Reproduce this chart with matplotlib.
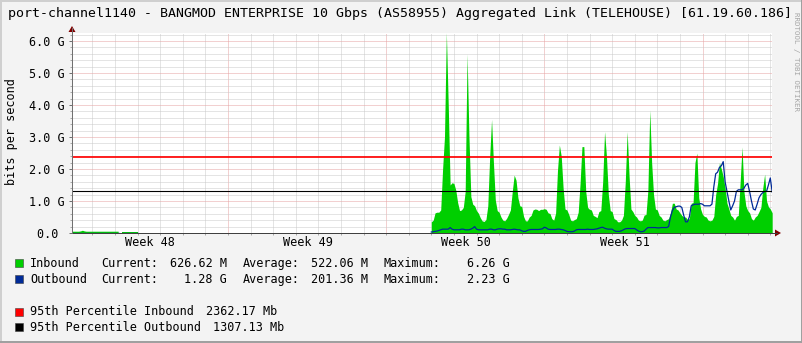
import numpy as np
import matplotlib
matplotlib.use("Agg")
import matplotlib.pyplot as plt
from matplotlib.patches import Rectangle, Polygon
from matplotlib.lines import Line2D

# ---------------- data ----------------
title = "port-channel1140 - BANGMOD ENTERPRISE 10 Gbps (AS58955) Aggregated Link (TELEHOUSE) [61.19.60.186]"
y_label = "bits per second"
y_ticks = [0, 1, 2, 3, 4, 5, 6]
y_tick_labels = ["0.0 ", "1.0 G", "2.0 G", "3.0 G", "4.0 G", "5.0 G", "6.0 G"]
week_positions = [2.55, 9.55, 16.55, 23.55]
week_labels = ["Week 48", "Week 49", "Week 50", "Week 51"]

step_days = 1.0 / 12.0          # 2-hour samples

early_start = -1.0
early_in = [0.04, 0.04, 0.04, 0.04, 0.04, 0.04, 0.05, 0.07, 0.05, 0.04,
            0.04, 0.04, 0.04, 0.04, 0.04, 0.04, 0.04, 0.04, 0.04, 0.04,
            0.04, 0.04, 0.04, 0.04, 0.04, 0.04, 0.04, np.nan, 0.04, 0.04,
            0.04, 0.04, 0.04, 0.04, 0.04, 0.04, 0.04]
early_out = [0.01, 0.01, 0.01, 0.01, 0.01, 0.01, 0.01, 0.01, 0.01, 0.01,
             0.01, 0.01, 0.01, 0.01, 0.01, 0.01, 0.01, 0.01, 0.01, 0.01,
             0.01, 0.01, 0.01, 0.01, 0.01, 0.01, 0.01, np.nan, 0.01, 0.01,
             0.01, 0.01, 0.01, 0.01, 0.01, 0.01, 0.01]

main_start = 15.0
inbound = [
    0.35, 0.40, 0.63, 0.65, 0.65, 0.72, 2.00, 3.00, 6.26, 4.00,
    1.50, 1.57, 1.55, 1.34, 0.95, 0.70, 0.72, 0.80, 1.30, 5.60,
    3.00, 1.14, 0.90, 0.85, 0.70, 0.62, 0.48, 0.38, 0.36, 0.42,
    0.85, 2.38, 3.55, 2.20, 1.03, 0.70, 0.65, 0.50, 0.40, 0.38,
    0.46, 0.58, 0.72, 1.30, 1.81, 1.65, 1.10, 0.85, 0.83, 0.52,
    0.38, 0.38, 0.50, 0.55, 0.72, 0.75, 0.74, 0.70, 0.74, 0.74,
    0.76, 0.74, 0.63, 0.61, 0.45, 0.40, 0.62, 1.95, 2.75, 2.40,
    1.40, 0.75, 0.72, 0.58, 0.40, 0.38, 0.42, 0.45, 0.65, 1.55,
    2.70, 2.70, 1.30, 0.80, 0.74, 0.72, 0.55, 0.52, 0.48, 0.67,
    0.70, 1.60, 3.17, 2.40, 1.20, 0.70, 0.67, 0.45, 0.42, 0.35,
    0.35, 0.40, 0.55, 1.60, 3.17, 1.80, 0.75, 0.67, 0.55, 0.50,
    0.40, 0.38, 0.40, 0.56, 0.58, 1.34, 3.84, 2.20, 1.20, 0.75,
    0.72, 0.55, 0.50, 0.40, 0.38, 0.42, 0.45, 0.63, 0.93, 0.93,
    0.75, 0.72, 0.63, 0.55, 0.50, 0.50, 0.42, 0.45, 0.93, 0.95,
    2.20, 2.50, 1.10, 0.75, 0.58, 0.52, 0.50, 0.40, 0.38, 0.40,
    0.52, 1.20, 1.55, 2.20, 2.00, 1.76, 1.40, 0.93, 0.75, 0.55,
    0.50, 0.40, 0.52, 0.55, 1.60, 2.69, 1.30, 0.85, 0.70, 0.63,
    0.45, 0.40, 0.50, 0.55, 0.67, 0.80, 1.40, 1.84, 1.00, 0.82,
    0.75, 0.63]
outbound = [
    0.03, 0.04, 0.05, 0.06, 0.08, 0.10, 0.12, 0.12, 0.12, 0.12,
    0.17, 0.12, 0.10, 0.10, 0.10, 0.10, 0.12, 0.12, 0.10, 0.10,
    0.10, 0.12, 0.15, 0.20, 0.12, 0.10, 0.10, 0.10, 0.10, 0.10,
    0.10, 0.12, 0.12, 0.10, 0.10, 0.12, 0.13, 0.13, 0.12, 0.12,
    0.10, 0.10, 0.10, 0.11, 0.12, 0.11, 0.10, 0.10, 0.07, 0.05,
    0.05, 0.08, 0.10, 0.11, 0.11, 0.11, 0.11, 0.11, 0.12, 0.13,
    0.18, 0.16, 0.12, 0.11, 0.11, 0.11, 0.11, 0.12, 0.12, 0.11,
    0.10, 0.08, 0.05, 0.04, 0.04, 0.04, 0.06, 0.10, 0.11, 0.11,
    0.11, 0.11, 0.11, 0.12, 0.11, 0.11, 0.11, 0.12, 0.13, 0.15,
    0.17, 0.18, 0.15, 0.13, 0.12, 0.12, 0.12, 0.08, 0.05, 0.05,
    0.05, 0.07, 0.10, 0.13, 0.14, 0.14, 0.14, 0.14, 0.14, 0.10,
    0.06, 0.04, 0.04, 0.06, 0.12, 0.17, 0.17, 0.17, 0.17, 0.17,
    0.16, 0.16, 0.17, 0.17, 0.17, 0.17, 0.20, 0.50, 0.70, 0.80,
    0.82, 0.84, 0.84, 0.80, 0.56, 0.35, 0.35, 0.50, 0.85, 0.88,
    0.90, 0.90, 0.90, 0.92, 0.90, 0.85, 0.85, 0.85, 0.85, 0.90,
    1.44, 1.85, 1.90, 2.05, 2.10, 2.23, 1.60, 1.30, 1.00, 0.72,
    0.85, 1.00, 1.30, 1.35, 1.35, 1.35, 1.40, 1.50, 1.55, 1.30,
    1.00, 0.75, 0.72, 0.90, 1.10, 1.20, 1.26, 1.30, 1.30, 1.50,
    1.72, 1.28]

pct_in = 2.36217    # 95th percentile inbound (Gbps)
pct_out = 1.30713   # 95th percentile outbound (Gbps)

legend_rows = [
    ("Inbound", "626.62 M", "522.06 M", "6.26 G"),
    ("Outbound", "1.28 G", "201.36 M", "2.23 G"),
]
pct_labels = [("95th Percentile Inbound", "2362.17 Mb"),
              ("95th Percentile Outbound", "1307.13 Mb")]

# ---------------- style ----------------
W, H, DPI = 803, 343, 100
C_BG = "#F3F3F3"
C_IN = "#00CF00"
C_OUT = "#002A97"
C_PIN = "#FF0000"
C_POUT = "#000000"
C_GRID = "#CACACA"
C_MGRID = "#E6A3A3"
C_ARROW = "#7F0000"
C_AXIS = "#707070"
MONO = "DejaVu Sans Mono"
PX = 72.0 / DPI   # one pixel in points

def fx(px):
    return px / W

def fy(py):
    return 1 - py / H

fig = plt.figure(figsize=(W / DPI, H / DPI), dpi=DPI, facecolor=C_BG)

# plot area in pixels
L, R, T, B = 72, 772, 33, 233
ax = fig.add_axes([fx(L), fy(B), (R - L) / W, (B - T) / H], facecolor="white")
day0_px, px_per_day = 92.3, 22.6
ax.set_xlim((L - day0_px) / px_per_day, (R - day0_px) / px_per_day)
ax.set_ylim(0, 6.25)
for s in ax.spines.values():
    s.set_visible(False)

# dotted grid (1 px on / 1 px off)
x0, x1 = ax.get_xlim()
for d in range(int(np.ceil(x0)), int(np.floor(x1)) + 1):
    major = (d % 7 == 6)
    ax.axvline(d, color=C_MGRID if major else C_GRID, lw=PX,
               ls=(0, (1, 1)), zorder=0.5, snap=True)
for v in np.arange(0.2, 6.25, 0.2):
    major = abs(v - round(v)) < 1e-6
    ax.axhline(v, color=C_MGRID if major else C_GRID, lw=PX,
               ls=(0, (1, 1)), zorder=0.5, snap=True)

# data
t_early = early_start + np.arange(len(early_in)) * step_days
t_main = main_start + np.arange(len(inbound)) * step_days
ax.fill_between(t_early, 0, np.array(early_in, float), color=C_IN, lw=0, zorder=1)
ax.fill_between(t_main, 0, np.array(inbound, float), color=C_IN, lw=0, zorder=1)
ax.plot(t_early, early_out, color=C_OUT, lw=0.9, zorder=2)
ax.plot(t_main, outbound, color=C_OUT, lw=0.9, zorder=2)
ax.axhline(pct_in, color=C_PIN, lw=PX * 1.7, zorder=3)
ax.axhline(pct_out, color=C_POUT, lw=PX * 1.1, zorder=3)

# ticks
ax.set_yticks(y_ticks)
ax.set_yticklabels(y_tick_labels, fontfamily=MONO, fontsize=8.5)
ax.set_yticks(np.arange(0, 6.25, 0.2), minor=True)
ax.set_xticks(week_positions)
ax.set_xticklabels(week_labels, fontfamily=MONO, fontsize=8.5)
ax.set_xticks(np.arange(int(np.ceil(x0)), int(np.floor(x1)) + 1), minor=True)
ax.tick_params(axis="y", which="major", length=2.5, width=PX, color=C_AXIS, pad=2.5)
ax.tick_params(axis="y", which="minor", length=1.5, width=PX, color="#A8A8A8")
ax.tick_params(axis="x", which="major", length=0, pad=2.5)
ax.tick_params(axis="x", which="minor", length=1.5, width=PX, color="#A8A8A8")

# axis lines and arrows
fig.add_artist(Line2D([fx(L), fx(777)], [fy(B), fy(B)], color="#404040", lw=PX, snap=True))
fig.add_artist(Line2D([fx(L), fx(L)], [fy(B), fy(28)], color=C_AXIS, lw=PX, snap=True))
fig.add_artist(Polygon([[fx(68.5), fy(32)], [fx(75.5), fy(32)], [fx(72), fy(26)]],
                       closed=True, color=C_ARROW, lw=0))
fig.add_artist(Polygon([[fx(775), fy(229.5)], [fx(775), fy(236.5)], [fx(781), fy(233)]],
                       closed=True, color=C_ARROW, lw=0))

# texts
fig.text(fx(8), fy(14), title, fontfamily=MONO, fontsize=9.5, ha="left", va="center")
fig.text(fx(12), fy(132), y_label, fontfamily=MONO, fontsize=8.5, rotation=90,
         ha="center", va="center")
fig.text(fx(796), fy(62), "RRDTOOL / TOBI OETIKER", fontfamily=MONO, fontsize=5.4,
         rotation=270, ha="center", va="center", color="#A6A6A6")

# legend
row_y = [263.3, 279.3]
for (name, cur, avg, mx), y, col in zip(legend_rows, row_y, [C_IN, C_OUT]):
    fig.add_artist(Rectangle((fx(15), fy(y + 4)), 8 / W, 8 / H, facecolor=col,
                             edgecolor="#404040", lw=0.4))
    kw = dict(fontfamily=MONO, fontsize=8.5, va="center")
    fig.text(fx(30), fy(y), name, ha="left", **kw)
    fig.text(fx(101.7), fy(y), "Current:", ha="left", **kw)
    fig.text(fx(227), fy(y), cur, ha="right", **kw)
    fig.text(fx(242.7), fy(y), "Average:", ha="left", **kw)
    fig.text(fx(368), fy(y), avg, ha="right", **kw)
    fig.text(fx(383.7), fy(y), "Maximum:", ha="left", **kw)
    fig.text(fx(509.5), fy(y), mx, ha="right", **kw)

pct_y = [311.7, 327.3]
pct_x = [206, 212.7]
for (name, val), y, xv, col in zip(pct_labels, pct_y, pct_x, [C_PIN, C_POUT]):
    fig.add_artist(Rectangle((fx(15), fy(y + 4)), 8 / W, 8 / H, facecolor=col,
                             edgecolor="#404040", lw=0.4))
    kw = dict(fontfamily=MONO, fontsize=8.5, va="center")
    fig.text(fx(30), fy(y), name, ha="left", **kw)
    fig.text(fx(xv), fy(y), val, ha="left", **kw)

# outer shading frame
fig.add_artist(Line2D([fx(0.5), fx(0.5)], [fy(0), fy(H)], color="#CFCFCF", lw=1.4))
fig.add_artist(Line2D([fx(0), fx(W)], [fy(0.5), fy(0.5)], color="#CFCFCF", lw=1.4))
fig.add_artist(Line2D([fx(W - 1), fx(W - 1)], [fy(0), fy(H)], color="#9E9E9E", lw=1.4))
fig.add_artist(Line2D([fx(0), fx(W)], [fy(H - 1), fy(H - 1)], color="#9E9E9E", lw=1.4))

fig.savefig("out.png", dpi=DPI, facecolor=C_BG)
